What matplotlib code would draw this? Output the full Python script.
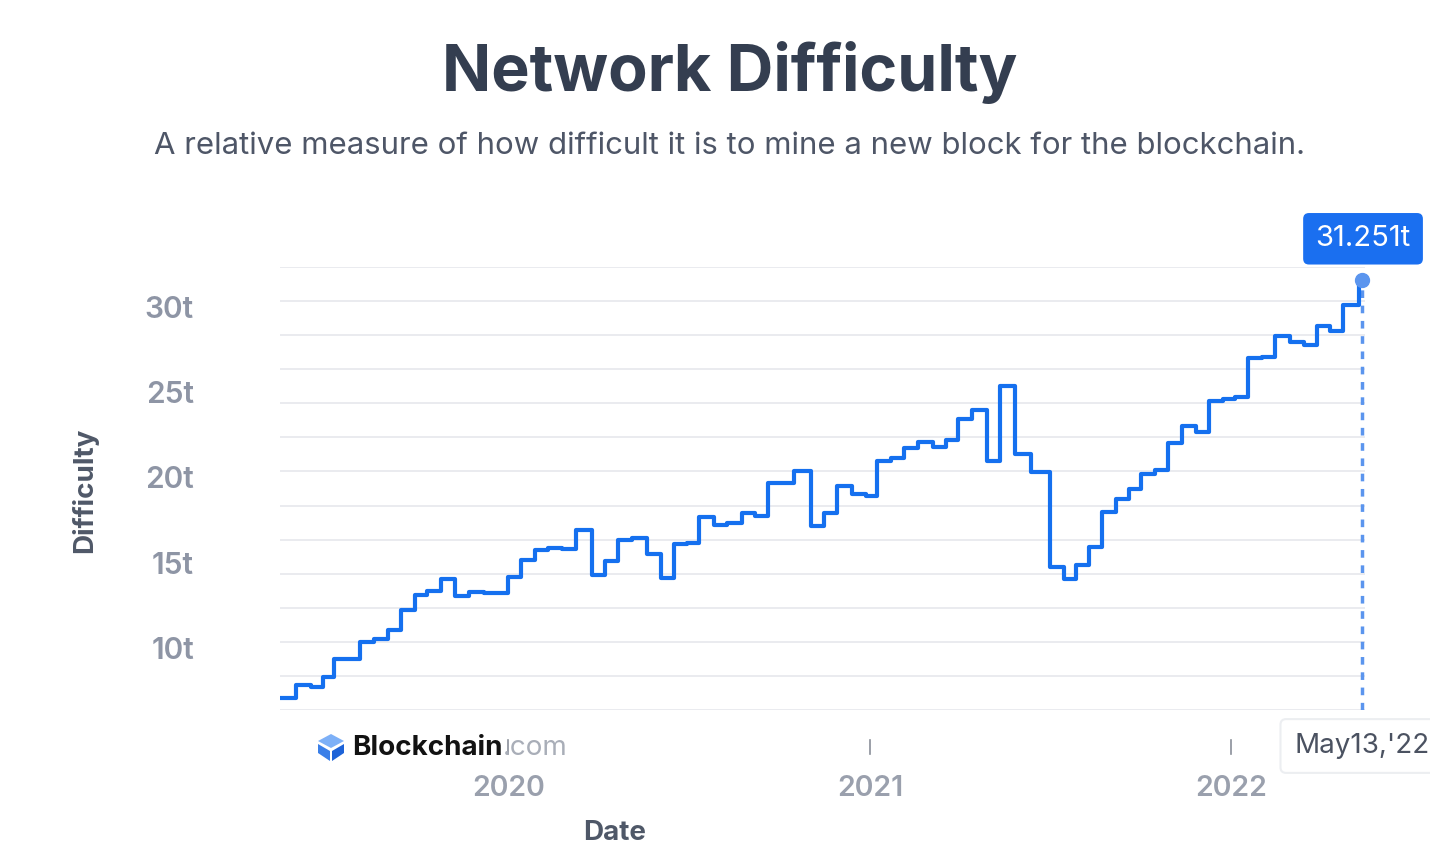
import matplotlib
matplotlib.use("Agg")
import matplotlib.pyplot as plt
import matplotlib.transforms as mtransforms
from matplotlib.patches import Polygon
import numpy as np

plt.rcParams['font.family'] = ['Inter', 'DejaVu Sans']

# difficulty adjustments (date, difficulty in trillions)
dates = ['2019-05-14', '2019-05-31', '2019-06-15', '2019-06-27', '2019-07-09',
         '2019-07-23', '2019-08-04', '2019-08-18', '2019-09-01', '2019-09-14',
         '2019-09-28', '2019-10-11', '2019-10-25', '2019-11-08', '2019-11-22',
         '2019-12-07', '2019-12-20', '2020-01-01', '2020-01-14', '2020-01-28',
         '2020-02-10', '2020-02-24', '2020-03-09', '2020-03-25', '2020-04-08',
         '2020-04-21', '2020-05-05', '2020-05-20', '2020-06-03', '2020-06-16',
         '2020-06-29', '2020-07-12', '2020-07-27', '2020-08-09', '2020-08-24',
         '2020-09-06', '2020-09-19', '2020-10-03', '2020-10-16', '2020-11-02',
         '2020-11-15', '2020-11-28', '2020-12-13', '2020-12-27', '2021-01-08',
         '2021-01-22', '2021-02-04', '2021-02-18', '2021-03-05', '2021-03-18',
         '2021-03-31', '2021-04-14', '2021-04-29', '2021-05-12', '2021-05-27',
         '2021-06-12', '2021-07-02', '2021-07-16', '2021-07-28', '2021-08-10',
         '2021-08-23', '2021-09-06', '2021-09-19', '2021-10-02', '2021-10-16',
         '2021-10-29', '2021-11-12', '2021-11-26', '2021-12-09', '2021-12-23',
         '2022-01-05', '2022-01-18', '2022-02-01', '2022-02-14', '2022-03-01',
         '2022-03-15', '2022-03-28', '2022-04-11', '2022-04-24', '2022-05-10',
         '2022-05-13']
difficulty = [6.70, 7.45, 7.35, 7.93, 9.01,
              8.98, 9.99, 10.15, 10.72, 11.85,
              12.77, 12.98, 13.67, 12.69, 12.92,
              12.86, 12.87, 13.80, 14.78, 15.41,
              15.52, 15.46, 16.54, 13.90, 14.72,
              15.95, 16.09, 15.13, 13.74, 15.76,
              15.78, 17.32, 16.83, 16.97, 17.55,
              17.36, 19.31, 19.31, 20.00, 16.77,
              17.55, 19.14, 18.65, 18.55, 20.64,
              20.80, 21.39, 21.72, 21.43, 21.86,
              23.09, 23.58, 20.64, 25.04, 21.04,
              19.96, 14.37, 13.69, 14.53, 15.56,
              17.61, 18.40, 18.99, 19.86, 20.06,
              21.66, 22.66, 22.31, 24.16, 24.24,
              24.36, 26.65, 26.70, 27.94, 27.58,
              27.45, 28.56, 28.23, 29.78, 31.25,
              31.25]
last_value = '31.251t'
last_date = "May13,'22"
year_ticks = ['2020-01-01', '2021-01-01', '2022-01-01']
year_labels = ['2020', '2021', '2022']
y_labels = [10, 15, 20, 25, 30]
grid_levels = np.arange(6, 33, 2)

W, H = 1430, 863
x = np.array(dates, dtype='datetime64[D]').astype('O')

fig = plt.figure(figsize=(W / 100, H / 100), dpi=100)
ax = fig.add_axes([280 / W, 1 - 710 / H, 1085 / W, 443 / H])

blue = '#1570ef'
ax.step(x, difficulty, where='post', color=blue, lw=3.0, zorder=3)

x0 = np.datetime64('2019-05-15').astype('O')
x1 = np.datetime64('2022-05-16').astype('O')
ax.set_xlim(x0, x1)
ax.set_ylim(6, 32)

for s in ax.spines.values():
    s.set_visible(False)

# grid every 2t, labels every 5t
ax.hlines(grid_levels, x0, x1, color='#e6e8ec', lw=1.2, zorder=1)
ax.set_yticks(y_labels)
ax.set_yticklabels([f'{v}t' for v in y_labels])
ax.tick_params(axis='y', length=0, pad=62, labelsize=21.5, labelcolor='#8e95a5')
offset = mtransforms.ScaledTranslation(0, -0.06, fig.dpi_scale_trans)
for lbl in ax.get_yticklabels():
    lbl.set_transform(lbl.get_transform() + offset)
    lbl.set_fontweight('semibold')

xt = np.array(year_ticks, dtype='datetime64[D]').astype('O')
ax.set_xticks(xt)
ax.set_xticklabels(year_labels)
ax.tick_params(axis='x', length=0, pad=47, labelsize=20.5, labelcolor='#9aa0ad')
for lbl in ax.get_xticklabels():
    lbl.set_fontweight('semibold')
# small year marks below the plot
trans = mtransforms.blended_transform_factory(ax.transData, ax.transAxes)
for d in xt:
    ax.plot([d, d], [-0.068, -0.100], color='#8a8f99', lw=1.2, transform=trans, clip_on=False)

# last point marker, dashed guide and value tooltip
ax.plot([x[-1], x[-1]], [6, difficulty[-1]], color='#5b95ee', lw=2.5, ls=(0, (2.2, 2.2)), zorder=2)
ax.plot(x[-1], difficulty[-1], 'o', ms=10, color='#5b95ee', zorder=4, clip_on=False)
ax.annotate(last_value, (x[-1], difficulty[-1]), xytext=(1, 41), textcoords='offset pixels',
            ha='center', va='center', fontsize=21, color='white',
            bbox=dict(boxstyle='round,pad=0.42,rounding_size=0.2', fc='#1a6ff0', ec='none'),
            annotation_clip=False)

ax.annotate(last_date, (x[-1], 0), xycoords=trans, xytext=(1362 / W, 1 - 746 / H),
            textcoords='figure fraction', ha='center', va='center', fontsize=20, color='#4b5261',
            bbox=dict(boxstyle='round,pad=0.5,rounding_size=0.2', fc='white', ec='#eceef1', lw=1.5),
            annotation_clip=False)

# titles and axis labels
fig.text(730 / W, 1 - 72 / H, 'Network Difficulty', ha='center', va='center',
         fontsize=46.5, fontweight='bold', color='#343e50')
fig.text(729 / W, 1 - 146 / H,
         'A relative measure of how difficult it is to mine a new block for the blockchain.',
         ha='center', va='center', fontsize=22.4, color='#4e5667')
fig.text(85 / W, 1 - 490 / H, 'Difficulty', rotation=90, ha='center', va='center',
         fontsize=20, fontweight='bold', color='#4f5868')
fig.text(615 / W, 1 - 833 / H, 'Date', ha='center', va='center',
         fontsize=20, fontweight='bold', color='#4f5868')

# Blockchain.com logo
def px(a, b):
    return (a / W, 1 - b / H)

fig.patches.append(Polygon([px(331, 734), px(344, 741), px(331, 748), px(318, 741)],
                           closed=True, fc='#7db0f7', ec='none', transform=fig.transFigure))
fig.patches.append(Polygon([px(318, 744), px(330, 751), px(330, 761), px(318, 753)],
                           closed=True, fc='#3a7fe8', ec='none', transform=fig.transFigure))
fig.patches.append(Polygon([px(332, 751), px(344, 744), px(344, 753), px(332, 761)],
                           closed=True, fc='#1d63d8', ec='none', transform=fig.transFigure))
bt = fig.text(352 / W, 1 - 748 / H, 'Blockchain', ha='left', va='center',
              fontsize=20, fontweight='bold', color='#121212')
fig.canvas.draw()
bb = bt.get_window_extent()
fig.text(bb.x1 / W, 1 - 748 / H, '.com', ha='left', va='center', fontsize=20, color='#a9aeb8')

fig.savefig('out.png', dpi=100, facecolor='white')
